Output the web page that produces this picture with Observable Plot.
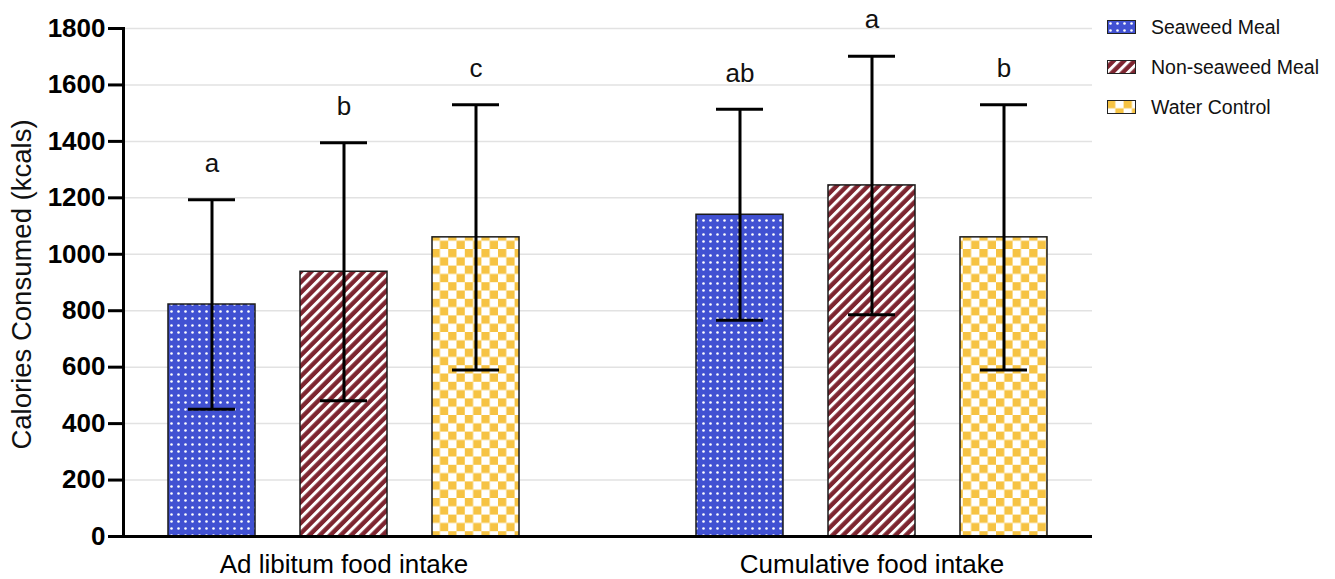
<!DOCTYPE html>
<html>
<head>
<meta charset="utf-8">
<script src="https://cdn.jsdelivr.net/npm/d3@7"></script>
<script src="https://cdn.jsdelivr.net/npm/@observablehq/plot@0.6"></script>
<style>
  html, body { margin: 0; padding: 0; background: #fff; }
  #wrap { position: relative; width: 1335px; height: 579px; font-family: "Liberation Sans", Arial, Helvetica, sans-serif; }
  #legend { position: absolute; left: 1107px; top: 7px; }
  .item { display: flex; align-items: center; height: 40px; font-size: 19.5px; color: #111; }
  .item svg { margin-right: 15px; }
</style>
</head>
<body>
<div id="wrap"><div id="legend"></div></div>
<script>
// ---- data ----
const groups = ["Ad libitum food intake", "Cumulative food intake"];
const series = ["Seaweed Meal", "Non-seaweed Meal", "Water Control"];
const adLibitumMean = [822, 938, 1060];
const adLibitumSD = [371, 457, 470];
const cumulativeMean = [1140, 1244, 1060];
const cumulativeSD = [374, 458, 470];
const adLibitumLetters = ["a", "b", "c"];
const cumulativeLetters = ["ab", "a", "b"];
const yTicks = [0, 200, 400, 600, 800, 1000, 1200, 1400, 1600, 1800];
const yLabel = "Calories Consumed (kcals)";

// ---- table ----
const means = [adLibitumMean, cumulativeMean];
const sds = [adLibitumSD, cumulativeSD];
const letters = [adLibitumLetters, cumulativeLetters];
const data = [];
groups.forEach((g, gi) => series.forEach((s, si) => data.push({
  group: g, series: s, key: g + " | " + s,
  mean: means[gi][si], sd: sds[gi][si], letter: letters[gi][si]
})));
const keysOf = g => series.map(s => g + " | " + s);
const xDomain = [...keysOf(groups[0]), "spacer", ...keysOf(groups[1])];
const middleKeys = groups.map(g => g + " | " + series[1]);
const patternIds = ["pat-dots", "pat-stripes", "pat-checks"];

const chart = Plot.plot({
  width: 1335, height: 579,
  marginLeft: 123, marginRight: 243, marginTop: 28, marginBottom: 43,
  style: { fontFamily: "'Liberation Sans', Arial, Helvetica, sans-serif", color: "#000", background: "transparent", overflow: "visible" },
  x: { domain: xDomain, padding: 0.34, axis: null },
  y: { domain: [0, 1800], axis: null },
  color: { domain: series, range: patternIds.map(id => `url(#${id})`) },
  marks: [
    Plot.gridY(yTicks.slice(1), { stroke: "#e2e2e2", strokeOpacity: 1, strokeWidth: 1.5 }),
    Plot.barY(data, { x: "key", y: "mean", fill: "series", stroke: "#1a1a1a", strokeWidth: 1.5 }),
    Plot.ruleX(data, { x: "key", y1: d => d.mean - d.sd, y2: d => d.mean + d.sd, stroke: "#000", strokeWidth: 3 }),
    Plot.tickY(data, { x: "key", y: d => d.mean + d.sd, stroke: "#000", strokeWidth: 3, insetLeft: 20, insetRight: 20 }),
    Plot.tickY(data, { x: "key", y: d => d.mean - d.sd, stroke: "#000", strokeWidth: 3, insetLeft: 20, insetRight: 20 }),
    Plot.text(data, { x: "key", y: d => d.mean + d.sd, text: "letter", dy: -36, fontSize: 26, fill: "#111" }),
    Plot.axisY({ ticks: yTicks, tickFormat: d => String(d), tickSize: 15, strokeWidth: 3, fontSize: 26, fontWeight: "bold", tickPadding: 3, label: null }),
    Plot.axisX({ ticks: middleKeys, tickFormat: k => k.split(" | ")[0], tickSize: 0, tickPadding: 18, fontSize: 26, label: null }),
    Plot.text([yLabel], { frameAnchor: "left", textAnchor: "middle", dx: -101, dy: 2, rotate: -90, fontSize: 27.5, fill: "#111" }),
    Plot.frame({ anchor: "left", stroke: "#000", strokeWidth: 3 }),
    Plot.ruleY([0], { stroke: "#000", strokeWidth: 3 })
  ]
});

// ---- patterns ----
function addPatterns(svg) {
  const defs = d3.select(svg).insert("defs", ":first-child");
  const dots = defs.append("pattern").attr("id", "pat-dots").attr("patternUnits", "userSpaceOnUse")
    .attr("width", 7).attr("height", 7);
  dots.append("rect").attr("width", 7).attr("height", 7).attr("fill", "#4151d2");
  dots.append("circle").attr("cx", 3.5).attr("cy", 3.5).attr("r", 1.3).attr("fill", "#fff");
  const sp = 7.4;
  const stripes = defs.append("pattern").attr("id", "pat-stripes").attr("patternUnits", "userSpaceOnUse")
    .attr("width", sp).attr("height", sp).attr("patternTransform", "rotate(45)");
  stripes.append("rect").attr("width", sp).attr("height", sp).attr("fill", "#7d2530");
  stripes.append("rect").attr("x", 0).attr("width", 3).attr("height", sp).attr("fill", "#fff");
  const c = 8.3;
  const checks = defs.append("pattern").attr("id", "pat-checks").attr("patternUnits", "userSpaceOnUse")
    .attr("width", 2 * c).attr("height", 2 * c);
  checks.append("rect").attr("width", 2 * c).attr("height", 2 * c).attr("fill", "#fff");
  checks.append("rect").attr("width", c).attr("height", c).attr("fill", "#f6c343");
  checks.append("rect").attr("x", c).attr("y", c).attr("width", c).attr("height", c).attr("fill", "#f6c343");
}
addPatterns(chart);
document.getElementById("wrap").prepend(chart);

// ---- legend ----
const legend = d3.select("#legend");
series.forEach((s, i) => {
  const item = legend.append("div").attr("class", "item");
  const sw = item.append("svg").attr("width", 29).attr("height", 14);
  sw.append("rect").attr("x", 0.5).attr("y", 0.5).attr("width", 28).attr("height", 13)
    .attr("fill", `url(#${patternIds[i]})`).attr("stroke", "#222").attr("stroke-width", 1);
  item.append("span").text(s);
});
</script>
</body>
</html>
